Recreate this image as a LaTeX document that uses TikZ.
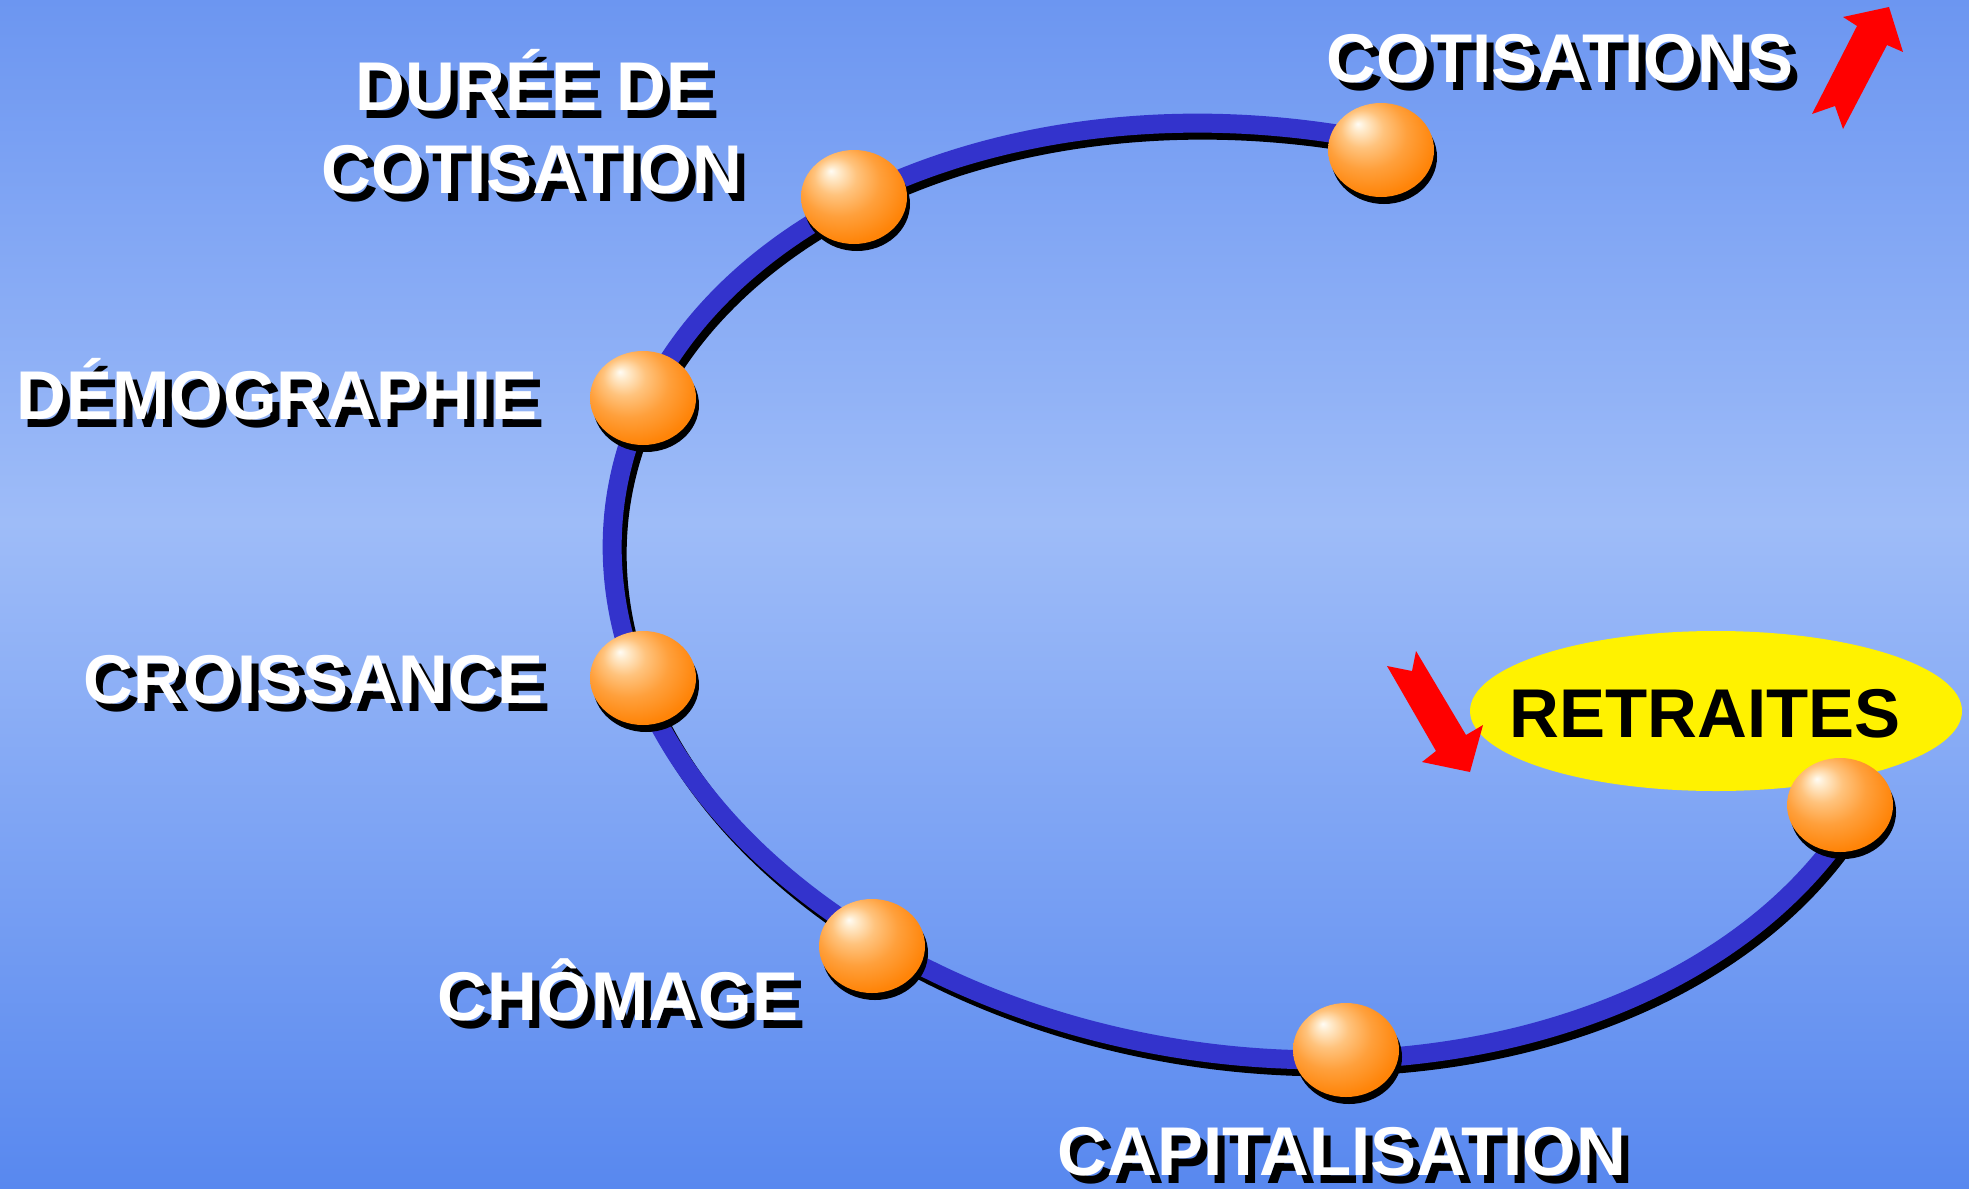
\documentclass[tikz,border=0pt]{standalone}
\usepackage{fontspec}
\setmainfont{Liberation Sans}
\usetikzlibrary{shapes.geometric,shadows}
\definecolor{bgtop}{RGB}{108,150,241}
\definecolor{bgmid}{RGB}{158,188,248}
\definecolor{bgbot}{RGB}{88,136,239}
\definecolor{ringblue}{RGB}{51,51,204}
\definecolor{ballorange}{RGB}{255,128,0}
\definecolor{ballhi}{RGB}{255,252,245}
\definecolor{ballpale}{RGB}{255,235,205}
\definecolor{balllight}{RGB}{255,195,125}
\definecolor{ballmid}{RGB}{255,160,60}
\definecolor{balldeep}{RGB}{255,132,8}
\pgfdeclareverticalshading{bgshade}{100bp}{color(0bp)=(bgbot); color(25bp)=(bgbot); color(53bp)=(bgmid); color(75bp)=(bgtop); color(100bp)=(bgtop)}
\pgfdeclareradialshading{orb}{\pgfpoint{-11bp}{14bp}}{color(0bp)=(ballhi); color(3bp)=(ballpale); color(10bp)=(balllight); color(19bp)=(ballmid); color(30bp)=(balldeep); color(50bp)=(ballorange)}
\newcommand\shtxt[1]{\makebox[0pt][l]{\hspace{7pt}\raisebox{-8pt}{\color{black}#1}}#1}
\begin{document}
\begin{tikzpicture}[x=1pt,y=-1pt,
  lbl/.style={inner sep=0pt, anchor=base, text=white, font=\fontsize{69}{80}\selectfont\bfseries},
  orbnode/.style={ellipse, minimum width=106pt, minimum height=94pt, inner sep=0pt, shading=orb,
    drop shadow={shadow xshift=3pt, shadow yshift=-7pt, fill=black, opacity=1}},
  ringline/.style={line width=19pt, draw=ringblue},
  ringshadow/.style={line width=19pt, draw=black},
  redarrow/.style={fill=red, draw=none}
]
\useasboundingbox (0,0) rectangle (1969,1188);
\shade[shading=bgshade] (0,0) rectangle (1969,1188);

% ring: rotated elliptical arc (centre 1259,591.5; a=650, b=464; 8 deg)
\draw[ringshadow, shift={(5,7)}] plot[domain=-343.3:-84.7, samples=240, smooth]
  ({1259 + 643.6*cos(\x) - 65.1*sin(\x)}, {591.5 + 91.3*cos(\x) + 459.4*sin(\x)});
\draw[ringline] plot[domain=-343.3:-84.7, samples=240, smooth]
  ({1259 + 643.6*cos(\x) - 65.1*sin(\x)}, {591.5 + 91.3*cos(\x) + 459.4*sin(\x)});

% retraites bubble
\node[ellipse, fill=yellow, draw=none, minimum width=492pt, minimum height=160pt, inner sep=0pt] (retell) at (1716,711) {};

% red arrows
\fill[redarrow] (1889,7) -- (1903,52) -- (1887,45) -- (1843,129) -- (1835,106) -- (1812,114) -- (1857,26) -- (1843,17) -- cycle;
\fill[redarrow] (1416,651) -- (1466,735) -- (1483,725) -- (1470,772) -- (1422,762) -- (1436,751) -- (1387,666) -- (1412,671) -- cycle;

% balls
\node[orbnode] (bcot) at (1381,150) {};
\node[orbnode] (bdur) at (854,197) {};
\node[orbnode] (bdem) at (643,398) {};
\node[orbnode] (bcro) at (643,678) {};
\node[orbnode] (bcho) at (872,946) {};
\node[orbnode] (bcap) at (1346,1050) {};
\node[orbnode] (bret) at (1840,805) {};

% labels
\node[lbl] (tcot) at (1560,83) {\shtxt{COTISATIONS}};
\node[lbl] (tdur1) at (534,111) {\shtxt{DURÉE DE}};
\node[lbl] (tdur2) at (532,193) {\shtxt{COTISATION}};
\node[lbl] (tdem) at (277,419) {\shtxt{DÉMOGRAPHIE}};
\node[lbl] (tcro) at (314,703) {\shtxt{CROISSANCE}};
\node[lbl] (tcho) at (618,1020) {\shtxt{CHÔMAGE}};
\node[lbl] (tcap) at (1342,1175) {\shtxt{CAPITALISATION}};
\node[lbl, text=black] (tret) at (1705,737) {RETRAITES};
\end{tikzpicture}
\end{document}
